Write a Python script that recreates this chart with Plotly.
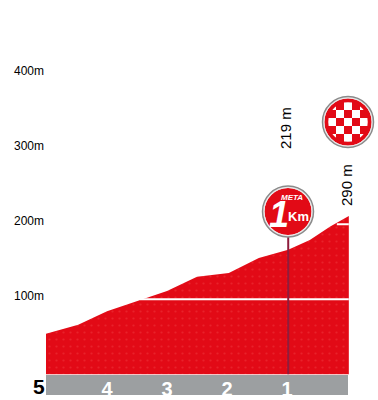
import plotly.graph_objects as go

# Profile: km to finish, elevation (axis scale)
km_to_go = [5.02, 4.48, 4.0, 3.45, 3.0, 2.5, 1.97, 1.47, 0.98, 0.62, 0.28, -0.03]
elevation = [54, 66, 84, 99, 111, 130, 135, 155, 166, 179, 197, 211]
km_ticks = [4, 3, 2, 1]
km_labels = ["4", "3", "2", "1"]
height_ticks = [100, 200, 300, 400]
height_labels = ["100m", "200m", "300m", "400m"]
band_100_x = [3.45, -0.03]
band_100_y = [100, 100]
band_200_x = [0.17, -0.03]
band_200_y = [200, 200]
flag_x = [0.98, 0.98]
flag_y = [0, 183]

W, H = 378, 400
L, R, T, B = 46, 29, 0, 25
PW, PH = W - L - R, H - T - B
RED = "#e20a16"
FONT = "Liberation Sans, Arial, sans-serif"


def px(x):
    return (x - L) / PW


def py(y):
    return (PH - y) / PH


def circle(cx, cy, r, fill=None, line=None, lw=0):
    return dict(type="circle", xref="paper", yref="paper", layer="above",
                x0=px(cx - r), x1=px(cx + r), y0=py(cy + r), y1=py(cy - r),
                fillcolor=fill or "rgba(0,0,0,0)",
                line=dict(color=line or "rgba(0,0,0,0)", width=lw))


def rect(x0, y0, x1, y1, fill, layer="above"):
    return dict(type="rect", xref="paper", yref="paper", layer=layer,
                x0=px(x0), x1=px(x1), y0=py(y1), y1=py(y0),
                fillcolor=fill, line=dict(width=0))


shapes = [rect(46, 375, 348, 395, "#9c9fa1", layer="below")]

# finish badge (chequered)
cx, cy = 348, 122
cell = 8
lim = 20
shapes.append(circle(cx, cy, lim, "#ffffff"))
for i in range(-3, 4):
    for j in range(-3, 4):
        if (i + j) % 2 == 1 and (i * i + j * j) * cell * cell <= 22 * 22:
            x0 = max(cx - lim, cx + (i - 0.5) * cell)
            x1 = min(cx + lim, cx + (i + 0.5) * cell)
            y0 = max(cy - lim, cy + (j - 0.5) * cell)
            y1 = min(cy + lim, cy + (j + 0.5) * cell)
            shapes.append(rect(x0, y0, x1, y1, RED))
shapes += [circle(cx, cy, 21.75, None, RED, 4),
           circle(cx, cy, 24.3, None, "#e8e8e8", 1.5),
           circle(cx, cy, 25.5, None, "#8a8a8a", 1.5)]

# last-km badge
mx, my = 288, 211.5
shapes += [circle(mx, my, 23.5, RED),
           circle(mx, my, 24.3, None, "#e8e8e8", 1.5),
           circle(mx, my, 25.5, None, "#8a8a8a", 1.5)]


def note(x, y, text, size, color="#000000", bold=False, italic=False, angle=0):
    t = f"<b>{text}</b>" if bold else text
    t = f"<i>{t}</i>" if italic else t
    return dict(xref="paper", yref="paper", x=px(x), y=py(y), text=t, showarrow=False,
                textangle=angle, xanchor="center", yanchor="middle",
                font=dict(family=FONT, size=size, color=color))


annotations = [
    note(30, -4, "500m", 12, "#cfcfcf"),
    note(38.5, 386, "5", 21, "#000000", bold=True),
    note(285, 128, "219 m", 15, angle=-90),
    note(347, 185, "290 m", 15, angle=-90),
    note(292, 197, "META", 8, "#ffffff", bold=True, italic=True),
    note(279, 214, "1", 36, "#ffffff", bold=True, italic=True),
    note(298, 216, "Km", 13, "#ffffff", bold=True),
]

fig = go.Figure()
fig.add_trace(go.Scatter(
    x=km_to_go + [km_to_go[-1], km_to_go[0]], y=elevation + [0, 0],
    mode="lines", line=dict(width=0), fill="toself", fillcolor=RED,
    fillpattern=dict(shape=".", bgcolor=RED, fgcolor="#ee3a40", size=7, solidity=0.08),
    hoverinfo="skip"))
for xs, ys in [(band_100_x, band_100_y), (band_200_x, band_200_y)]:
    fig.add_trace(go.Scatter(x=xs, y=ys, mode="lines",
                             line=dict(color="#ffffff", width=2), hoverinfo="skip"))
fig.add_trace(go.Scatter(x=flag_x, y=flag_y, mode="lines",
                         line=dict(color="#8e1c3c", width=2), hoverinfo="skip"))

fig.update_layout(
    width=W, height=H, showlegend=False,
    margin=dict(l=L, r=R, t=T, b=B, pad=0),
    paper_bgcolor="#ffffff", plot_bgcolor="#ffffff",
    shapes=shapes, annotations=annotations,
    xaxis=dict(range=[5.017, -0.033], tickvals=km_ticks, ticktext=km_labels,
               showgrid=False, zeroline=False, showline=False, ticks="",
               tickfont=dict(family=FONT, size=20, color="#ffffff", weight="bold")),
    yaxis=dict(range=[-1, 499], tickvals=height_ticks, ticktext=height_labels,
               showgrid=False, zeroline=False, showline=False, ticks="",
               ticklabelshift=-3, ticklabelstandoff=1,
               tickfont=dict(family=FONT, size=12, color="#000000")),
)
fig.write_html("out.html", config={"displayModeBar": False},
               post_script="document.body.style.margin='0';document.body.style.overflow='hidden';")
